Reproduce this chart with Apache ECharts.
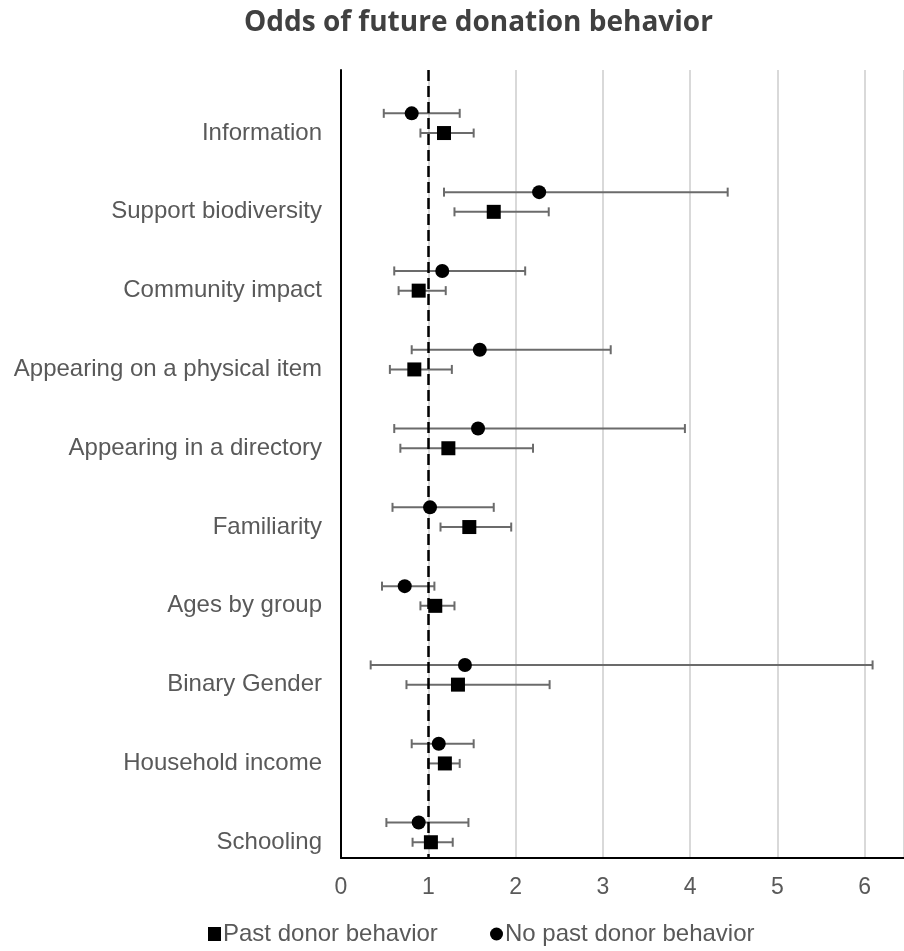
<!DOCTYPE html>
<html>
<head>
<meta charset="utf-8">
<script src="https://cdn.jsdelivr.net/npm/echarts@6/dist/echarts.min.js"></script>
<style>
  html, body { margin: 0; padding: 0; background: #fff; }
  #chart { width: 904px; height: 951px; }
</style>
</head>
<body>
<div id="chart"></div>
<script>
// Predictors, listed top to bottom
const categories = [
  'Information', 'Support biodiversity', 'Community impact',
  'Appearing on a physical item', 'Appearing in a directory', 'Familiarity',
  'Ages by group', 'Binary Gender', 'Household income', 'Schooling'
];

// Odds ratios with lower / upper confidence bounds
const pastOR   = [1.18, 1.75, 0.89, 0.84, 1.23, 1.47, 1.08, 1.34, 1.19, 1.03];
const pastLow  = [0.91, 1.30, 0.66, 0.56, 0.68, 1.14, 0.91, 0.75, 1.00, 0.82];
const pastHigh = [1.52, 2.38, 1.20, 1.27, 2.20, 1.95, 1.30, 2.39, 1.36, 1.28];

const noPastOR   = [0.81, 2.27, 1.16, 1.59, 1.57, 1.02, 0.73, 1.42, 1.12, 0.89];
const noPastLow  = [0.49, 1.18, 0.61, 0.81, 0.61, 0.59, 0.47, 0.34, 0.81, 0.52];
const noPastHigh = [1.36, 4.43, 2.11, 3.09, 3.94, 1.75, 1.07, 6.09, 1.52, 1.46];

const xTicks = [0, 1, 2, 3, 4, 5, 6];

const seriesNames = ['Past donor behavior', 'No past donor behavior'];

// vertical offset of the "no past donor" row within each category
const NO_PAST_SHIFT = -0.25;

const TEXT = '#595959';
const FONT = 'Liberation Sans, Arial, sans-serif';

function errorRows(low, high, shift) {
  return categories.map((_, i) => [low[i], high[i], i + shift]);
}
function pointRows(or, shift) {
  return categories.map((_, i) => [or[i], i + shift]);
}

function renderErrorBar(params, api) {
  const lo = api.coord([api.value(0), api.value(2)]);
  const hi = api.coord([api.value(1), api.value(2)]);
  const cap = 4.5;
  const style = { stroke: '#6b6b6b', lineWidth: 2, fill: null };
  return {
    type: 'group',
    children: [
      { type: 'line', shape: { x1: lo[0], y1: lo[1], x2: hi[0], y2: hi[1] }, style },
      { type: 'line', shape: { x1: lo[0], y1: lo[1] - cap, x2: lo[0], y2: lo[1] + cap }, style },
      { type: 'line', shape: { x1: hi[0], y1: hi[1] - cap, x2: hi[0], y2: hi[1] + cap }, style }
    ]
  };
}

const legendText = { fontFamily: FONT, fontSize: 24, color: TEXT, padding: [0, 0, 0, -3] };

const chart = echarts.init(document.getElementById('chart'), null, { renderer: 'canvas' });

chart.setOption({
  animation: false,
  backgroundColor: '#fff',
  title: {
    text: 'Odds of future donation behavior',
    left: 239,
    top: 4,
    textStyle: { fontFamily: 'Open Sans, Liberation Sans, sans-serif', fontSize: 28, fontWeight: 'bold', color: '#404040' }
  },
  legend: [
    {
      bottom: 0,
      left: 203,
      itemWidth: 13,
      itemHeight: 14,
      textStyle: legendText,
      data: [{ name: seriesNames[0], icon: 'rect' }]
    },
    {
      bottom: 0,
      left: 485,
      itemWidth: 13,
      itemHeight: 13,
      textStyle: legendText,
      data: [{ name: seriesNames[1], icon: 'circle' }]
    }
  ],
  grid: { left: 341, width: 568, top: 70, bottom: 93, containLabel: false },
  xAxis: {
    type: 'value',
    min: 0,
    max: 6.45,
    interval: 1,
    axisLine: { show: true, onZero: false, lineStyle: { color: '#000', width: 2 } },
    axisTick: { show: false },
    splitLine: { show: true, lineStyle: { color: '#d9d9d9', width: 2 } },
    axisLabel: {
      customValues: xTicks,
      formatter: v => String(v),
      fontFamily: FONT, fontSize: 23, color: TEXT, margin: 18
    }
  },
  yAxis: {
    type: 'value',
    inverse: true,
    min: -0.8,
    max: 9.2,
    axisLine: { show: true, onZero: false, lineStyle: { color: '#000', width: 2 } },
    axisTick: { show: false },
    splitLine: { show: false },
    axisLabel: {
      customValues: categories.map((_, i) => i),
      formatter: v => categories[Math.round(v)] || '',
      fontFamily: FONT, fontSize: 24, color: TEXT, margin: 19
    }
  },
  series: [
    {
      type: 'custom',
      name: seriesNames[0] + ' CI',
      renderItem: renderErrorBar,
      data: errorRows(pastLow, pastHigh, 0),
      encode: { x: [0, 1], y: 2 },
      z: 2,
      silent: true
    },
    {
      type: 'custom',
      name: seriesNames[1] + ' CI',
      renderItem: renderErrorBar,
      data: errorRows(noPastLow, noPastHigh, NO_PAST_SHIFT),
      encode: { x: [0, 1], y: 2 },
      z: 2,
      silent: true
    },
    {
      type: 'scatter',
      name: seriesNames[0],
      symbol: 'rect',
      symbolSize: 14,
      itemStyle: { color: '#000', opacity: 1 },
      data: pointRows(pastOR, 0),
      z: 5,
      markLine: {
        silent: true,
        symbol: 'none',
        label: { show: false },
        lineStyle: { color: '#000', width: 2.5, type: [11, 5] },
        data: [{ xAxis: 1 }],
        z: 3
      }
    },
    {
      type: 'scatter',
      name: seriesNames[1],
      symbol: 'circle',
      symbolSize: 14,
      itemStyle: { color: '#000', opacity: 1 },
      data: pointRows(noPastOR, NO_PAST_SHIFT),
      z: 5
    }
  ]
});
</script>
</body>
</html>
